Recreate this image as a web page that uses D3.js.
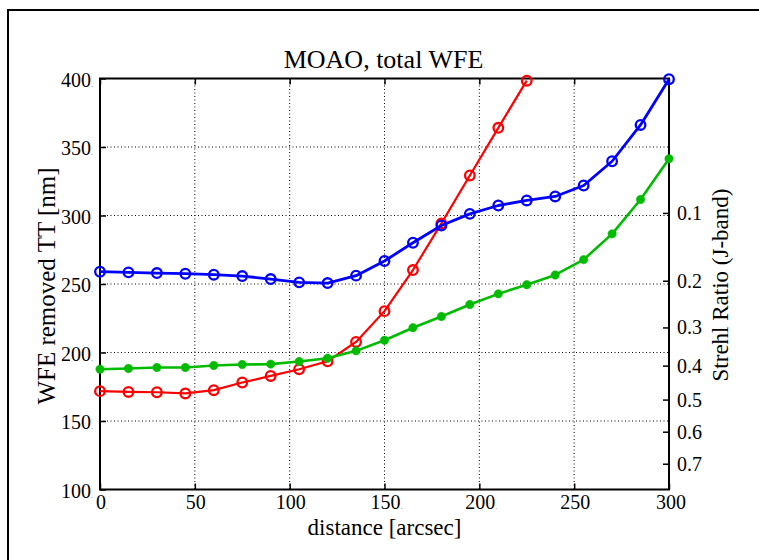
<!DOCTYPE html>
<html>
<head>
<meta charset="utf-8">
<script src="https://cdn.jsdelivr.net/npm/d3@7"></script>
<style>
  html, body { margin: 0; padding: 0; background: #fff; }
  svg { display: block; }
  text { font-family: "Liberation Serif", "Times New Roman", serif; fill: #000; }
</style>
</head>
<body>
<script>
// ---------- data ----------
const distance = [0, 15, 30, 45, 60, 75, 90, 105, 120, 135, 150, 165, 180, 195, 210, 225, 240, 255, 270, 285, 300];
const blueWFE  = [259.0, 258.5, 258.0, 257.5, 256.8, 255.8, 253.6, 251.2, 250.7, 256.1, 266.8, 280.1, 292.7, 301.2, 307.3, 311.0, 313.9, 321.9, 339.6, 366.1, 399.5];
const redWFE   = [171.8, 171.2, 171.0, 170.1, 172.5, 178.1, 182.9, 187.8, 193.6, 207.7, 230.2, 260.2, 294.2, 329.2, 364.0, 398.4];
const greenWFE = [187.8, 188.3, 189.0, 189.0, 190.5, 191.2, 191.5, 193.4, 195.8, 201.2, 208.9, 218.1, 226.3, 235.0, 242.8, 249.5, 256.6, 267.8, 286.6, 311.7, 341.4];
const xTicks = [0, 50, 100, 150, 200, 250, 300];
const yTicks = [100, 150, 200, 250, 300, 350, 400];
const strehlTicks = [0.1, 0.2, 0.3, 0.4, 0.5, 0.6, 0.7];
const titleText = "MOAO, total WFE";
const xLabelText = "distance [arcsec]";
const yLabelText = "WFE removed TT [nm]";
const y2LabelText = "Strehl Ratio (J-band)";
const lambdaJ = 1250; // nm, J band wavelength for Strehl conversion

// ---------- layout ----------
const W = 759, H = 560;
const plot = { left: 100, right: 669, top: 78.5, bottom: 489.5 };

const svg = d3.select("body").append("svg").attr("width", W).attr("height", H);

const x = d3.scaleLinear().domain([0, 300]).range([plot.left, plot.right]);
const y = d3.scaleLinear().domain([100, 400]).range([plot.bottom, plot.top]);
// Strehl -> WFE (Marechal): S = exp(-(2*pi*sigma/lambda)^2)
const strehlToWfe = s => lambdaJ / (2 * Math.PI) * Math.sqrt(-Math.log(s));

// outer frame
svg.append("rect").attr("x", 8).attr("y", 10).attr("width", 800).attr("height", 600)
  .attr("fill", "none").attr("stroke", "#000").attr("stroke-width", 2);

// grid
const grid = svg.append("g");
grid.selectAll("line.gx").data(xTicks.filter(d => d > 0 && d < 300)).join("line")
  .attr("x1", d => x(d)).attr("x2", d => x(d)).attr("y1", plot.top).attr("y2", plot.bottom)
  .attr("stroke", "#000").attr("stroke-width", 1).attr("stroke-dasharray", "1,2.5");
grid.selectAll("line.gy").data(yTicks.filter(d => d > 100 && d < 400)).join("line")
  .attr("y1", d => y(d)).attr("y2", d => y(d)).attr("x1", plot.left).attr("x2", plot.right)
  .attr("stroke", "#000").attr("stroke-width", 1).attr("stroke-dasharray", "1,2.5");

// axes (inward ticks via d3 axes)
const tickLen = 6;
const axB = svg.append("g").attr("transform", `translate(0,${plot.bottom})`)
  .call(d3.axisBottom(x).tickValues(xTicks).tickSizeInner(-tickLen).tickSizeOuter(0).tickFormat(""));
const axT = svg.append("g").attr("transform", `translate(0,${plot.top})`)
  .call(d3.axisTop(x).tickValues(xTicks).tickSizeInner(-tickLen).tickSizeOuter(0).tickFormat(""));
const axL = svg.append("g").attr("transform", `translate(${plot.left},0)`)
  .call(d3.axisLeft(y).tickValues(yTicks).tickSizeInner(-tickLen).tickSizeOuter(0).tickFormat(""));
const axR = svg.append("g").attr("transform", `translate(${plot.right},0)`)
  .call(d3.axisRight(y).tickValues(strehlTicks.map(strehlToWfe)).tickSizeInner(-tickLen).tickSizeOuter(0).tickFormat(""));
[axB, axT, axL, axR].forEach(a => {
  a.select(".domain").remove();
  a.selectAll(".tick line").attr("stroke", "#000").attr("stroke-width", 1.5);
});

// box
svg.append("rect").attr("x", plot.left).attr("y", plot.top)
  .attr("width", plot.right - plot.left).attr("height", plot.bottom - plot.top)
  .attr("fill", "none").attr("stroke", "#000").attr("stroke-width", 2);

// tick labels
const dotSpan = (sel) => sel.append("tspan").attr("font-size", 8).attr("fill", "#777").text(".");
svg.append("g").selectAll("text").data(yTicks).join("text")
  .attr("x", plot.left - 7).attr("y", d => y(d) + 8)
  .attr("text-anchor", "end").attr("font-size", 20)
  .each(function(d) { const t = d3.select(this); t.append("tspan").text(d); dotSpan(t); });
svg.append("g").selectAll("text").data(xTicks).join("text")
  .attr("x", d => x(d) + 2).attr("y", 509)
  .attr("text-anchor", "middle").attr("font-size", 20)
  .each(function(d) { const t = d3.select(this); t.append("tspan").text(d); if (d !== 300) dotSpan(t); });
svg.append("g").selectAll("text").data(strehlTicks).join("text")
  .attr("x", plot.right + 8).attr("y", d => y(strehlToWfe(d)) + 7)
  .attr("text-anchor", "start").attr("font-size", 20)
  .text(d => d.toFixed(1));

// title and labels
const title = svg.append("text").attr("x", (plot.left + plot.right) / 2).attr("y", 68)
  .attr("text-anchor", "middle").attr("font-size", 26);
title.append("tspan").text(titleText); dotSpan(title);
svg.append("text").attr("x", (plot.left + plot.right) / 2).attr("y", 535)
  .attr("text-anchor", "middle").attr("font-size", 23).text(xLabelText);
svg.append("text").attr("transform", `translate(55,${(plot.top + plot.bottom) / 2 + 2}) rotate(-90)`)
  .attr("text-anchor", "middle").attr("font-size", 25).text(yLabelText);
svg.append("text").attr("transform", `translate(728,${(plot.top + plot.bottom) / 2 + 1}) rotate(-90)`)
  .attr("text-anchor", "middle").attr("font-size", 23).text(y2LabelText);

// series
const line = d3.line().x(d => x(d[0])).y(d => y(d[1]));
function series(vals, color, lw, filled) {
  const pts = vals.map((v, i) => [distance[i], v]);
  const g = svg.append("g");
  g.append("path").datum(pts).attr("d", line).attr("fill", "none")
    .attr("stroke", color).attr("stroke-width", lw).attr("stroke-linejoin", "round");
  g.selectAll("circle").data(pts).join("circle")
    .attr("cx", d => x(d[0])).attr("cy", d => y(d[1]))
    .attr("r", filled ? 4.2 : 4.8)
    .attr("fill", filled ? color : "none")
    .attr("stroke", color).attr("stroke-width", filled ? 0.5 : 2.3);
}
series(redWFE, "#ff0000", 2.2, false);
series(greenWFE, "#00bb00", 2.6, true);
series(blueWFE, "#0000ff", 2.8, false);
</script>
</body>
</html>
